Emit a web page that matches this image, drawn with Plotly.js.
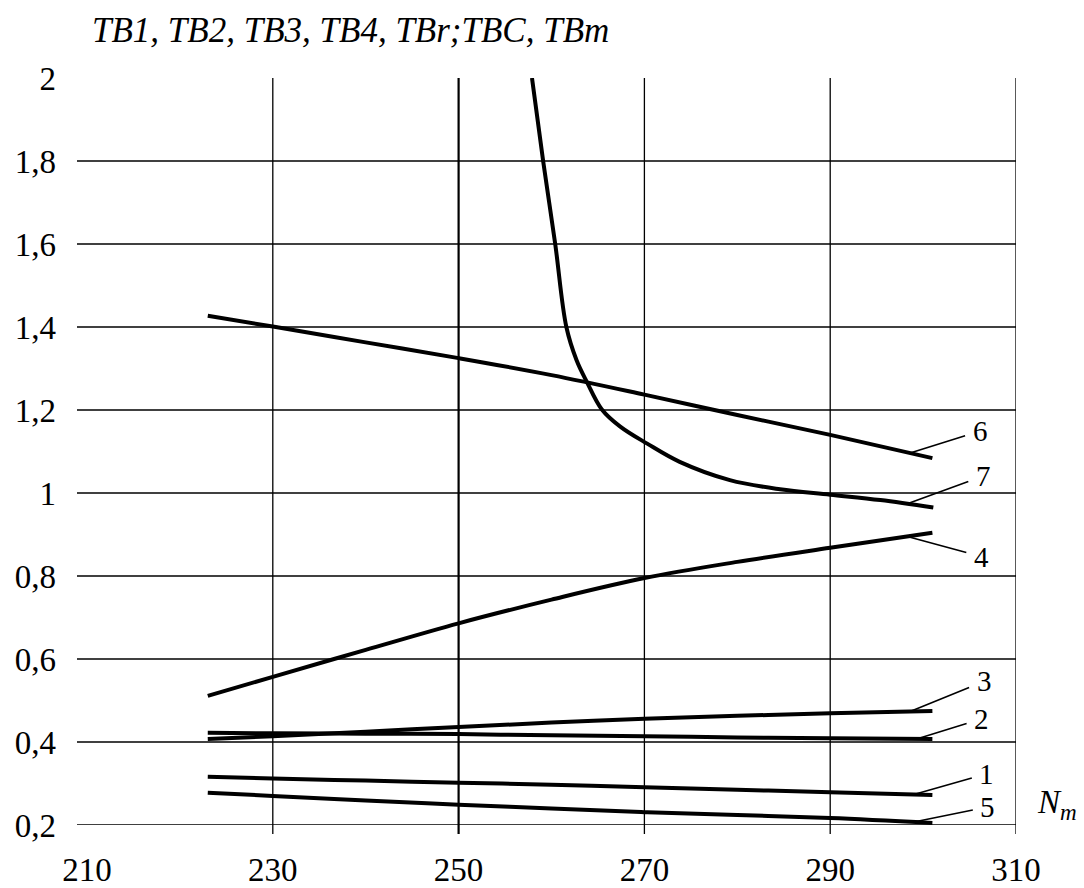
<!DOCTYPE html>
<html>
<head>
<meta charset="utf-8">
<script src="https://cdn.plot.ly/plotly-3.0.1.min.js"></script>
<style>
  html, body { margin: 0; padding: 0; background: #fff; }
  #chart { width: 1084px; height: 888px; }
</style>
</head>
<body>
<div id="chart"></div>
<script>
// ---- data ----
const nBase = [223, 230, 240, 250, 260, 270, 280, 290, 301];
const tb1 = [0.316, 0.312, 0.307, 0.302, 0.297, 0.291, 0.285, 0.279, 0.272];
const tb2 = [0.422, 0.421, 0.420, 0.419, 0.416, 0.414, 0.411, 0.409, 0.407];
const tb3 = [0.407, 0.414, 0.425, 0.436, 0.447, 0.456, 0.463, 0.469, 0.475];
const tb4 = [0.511, 0.557, 0.622, 0.686, 0.743, 0.795, 0.834, 0.868, 0.904];
const tbr = [0.278, 0.270, 0.259, 0.249, 0.240, 0.231, 0.224, 0.217, 0.205];
const tbc = [1.427, 1.401, 1.363, 1.325, 1.284, 1.237, 1.188, 1.140, 1.084];
const nTbm = [257.9, 259.1, 260.4, 261.6, 262.7, 263.8, 265.4, 267.4, 270.3, 273.8, 279.2, 284.6, 290, 295.4, 301.1];
const tbm  = [2.0, 1.8, 1.6, 1.4, 1.32, 1.268, 1.202, 1.16, 1.119, 1.075, 1.031, 1.009, 0.996, 0.983, 0.965];

const curveLabels = ['1', '2', '3', '4', '5', '6', '7'];
const xTickVals = [210, 230, 250, 270, 290, 310];
const xTickText = ['210', '230', '250', '270', '290', '310'];
const yTickVals = [0.2, 0.4, 0.6, 0.8, 1.0, 1.2, 1.4, 1.6, 1.8, 2.0];
const yTickText = ['0,2', '0,4', '0,6', '0,8', '1', '1,2', '1,4', '1,6', '1,8', '2'];
const xGrid = [230, 250, 270, 290, 310];
const yGrid = [0.2, 0.4, 0.6, 0.8, 1.0, 1.2, 1.4, 1.6, 1.8];

// ---- build ----
const SERIF = 'Liberation Serif';
const series = [
  {x: nBase, y: tb1, label: curveLabels[0], lx: 299.0, ax: 73, ay: -21},
  {x: nBase, y: tb2, label: curveLabels[1], lx: 299.3, ax: 65, ay: -20},
  {x: nBase, y: tb3, label: curveLabels[2], lx: 298.6, ax: 74, ay: -30},
  {x: nBase, y: tb4, label: curveLabels[3], lx: 298.3, ax: 74, ay: 20},
  {x: nBase, y: tbr, label: curveLabels[4], lx: 299.0, ax: 74, ay: -15},
  {x: nBase, y: tbc, label: curveLabels[5], lx: 298.6, ax: 70, ay: -22},
  {x: nTbm, y: tbm, label: curveLabels[6], lx: 298.3, ax: 76, ay: -28}
];

function interp(xs, ys, x) {
  for (let i = 0; i < xs.length - 1; i++) {
    if (x >= xs[i] && x <= xs[i + 1]) {
      const t = (x - xs[i]) / (xs[i + 1] - xs[i]);
      return ys[i] + t * (ys[i + 1] - ys[i]);
    }
  }
  return ys[ys.length - 1];
}

const traces = series.map(s => ({
  type: 'scatter', mode: 'lines', x: s.x, y: s.y,
  line: {color: '#000', width: 4, shape: 'spline', smoothing: 1},
  hoverinfo: 'skip', showlegend: false
}));

const annotations = series.map(s => ({
  x: s.lx, y: interp(s.x, s.y, s.lx), xref: 'x', yref: 'y',
  text: s.label, showarrow: true, arrowhead: 0, arrowwidth: 1.6, arrowcolor: '#000',
  ax: s.ax, ay: s.ay, borderpad: 7,
  font: {family: SERIF, size: 29, color: '#000'}
}));

annotations.push({
  xref: 'paper', yref: 'paper', x: 1.02, y: 0.028, xanchor: 'left', yanchor: 'middle',
  text: '<i>N</i><sub><i>m</i></sub>', showarrow: false,
  font: {family: SERIF, size: 33, color: '#000'}
});

const gridW = 1.3;
const shapes = [];
yGrid.forEach(v => shapes.push({
  type: 'line', xref: 'paper', yref: 'y', x0: -0.0108, x1: 1, y0: v, y1: v,
  line: {color: '#000', width: gridW}, layer: 'below'
}));
xGrid.forEach(v => shapes.push({
  type: 'line', xref: 'x', yref: 'paper', x0: v, x1: v, y0: -0.012, y1: 1,
  line: {color: '#000', width: v === 250 ? 2.2 : gridW}, layer: 'below'
}));

const layout = {
  width: 1084, height: 888,
  margin: {l: 87, r: 68, t: 78, b: 63},
  paper_bgcolor: '#fff', plot_bgcolor: '#fff',
  showlegend: false,
  font: {family: SERIF, color: '#000'},
  title: {
    text: '<i>TB1, TB2, TB3, TB4, TBr;TBC, TBm</i>',
    x: 92 / 1084, xanchor: 'left', xref: 'container',
    y: 1 - 30 / 888, yanchor: 'middle', yref: 'container',
    font: {family: SERIF, size: 35, color: '#000'}
  },
  xaxis: {
    range: [210, 310], showgrid: false, zeroline: false, showline: false, ticks: '',
    tickmode: 'array', tickvals: xTickVals, ticktext: xTickText,
    ticklabelstandoff: 22,
    tickfont: {family: SERIF, size: 33, color: '#000'}
  },
  yaxis: {
    range: [0.2, 2.0], showgrid: false, zeroline: false, showline: false, ticks: '',
    tickmode: 'array', tickvals: yTickVals, ticktext: yTickText,
    ticklabelstandoff: 30,
    tickfont: {family: SERIF, size: 33, color: '#000'}
  },
  shapes: shapes,
  annotations: annotations
};

Plotly.newPlot('chart', traces, layout, {displayModeBar: false, staticPlot: true});
</script>
</body>
</html>
